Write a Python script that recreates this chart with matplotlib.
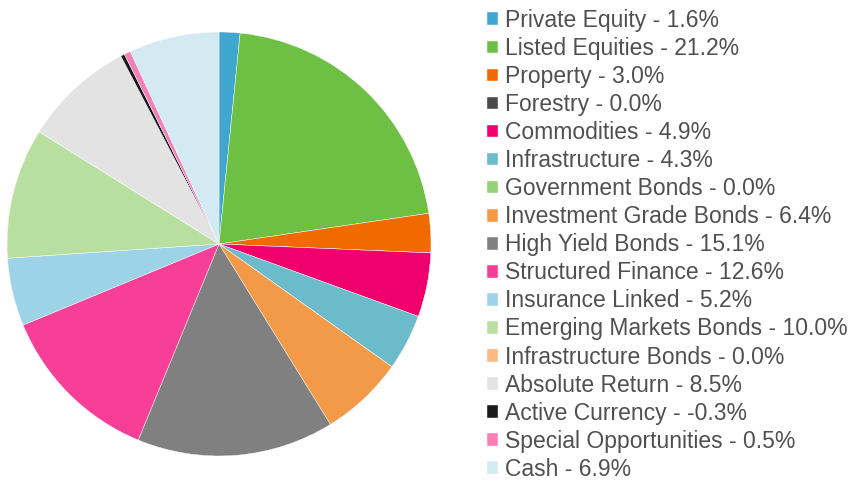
import numpy as np
import matplotlib.pyplot as plt

plt.rcParams['font.family'] = ['Liberation Sans', 'DejaVu Sans']

categories = [
    "Private Equity", "Listed Equities", "Property", "Forestry", "Commodities",
    "Infrastructure", "Government Bonds", "Investment Grade Bonds",
    "High Yield Bonds", "Structured Finance", "Insurance Linked",
    "Emerging Markets Bonds", "Infrastructure Bonds", "Absolute Return",
    "Active Currency", "Special Opportunities", "Cash",
]
weights = [1.6, 21.2, 3.0, 0.0, 4.9, 4.3, 0.0, 6.4, 15.1, 12.6, 5.2,
           10.0, 0.0, 8.5, -0.3, 0.5, 6.9]
colors = ["#3fa7cf", "#6ec044", "#f06a00", "#4a4a4a", "#f0006c", "#6bbbcb",
          "#95d178", "#f29a48", "#808080", "#f73f97", "#9cd3e6", "#b9dfa0",
          "#f8ba80", "#e3e3e3", "#1a1a1a", "#f77fb8", "#d3eaf2"]


def main():
    W, H = 854, 484
    fig = plt.figure(figsize=(W / 100, H / 100), dpi=100)

    # pie centre ~ (219, 244) px, radius ~212 px
    cx, cy, r = 219, 244, 212
    ax = fig.add_axes([(cx - r) / W, (H - cy - r) / H, 2 * r / W, 2 * r / H])
    wedges, _ = ax.pie(np.abs(weights), colors=colors, startangle=90,
                       counterclock=False, radius=1.0,
                       wedgeprops=dict(edgecolor="white", linewidth=0.3))
    ax.set_xlim(-1, 1)
    ax.set_ylim(-1, 1)
    ax.set_aspect("equal")

    labels = [f"{c} - {v:.1f}%" for c, v in zip(categories, weights)]
    fig.legend(wedges, labels, loc="upper left",
               bbox_to_anchor=(487 / W, 1 - 9 / H), frameon=False,
               fontsize=16.5, labelcolor="#505050",
               handlelength=0.48, handleheight=0.48, handletextpad=0.3,
               labelspacing=0.22, borderaxespad=0, borderpad=0)

    plt.savefig("out.png", dpi=100)
    plt.close()


if __name__ == "__main__":
    main()
